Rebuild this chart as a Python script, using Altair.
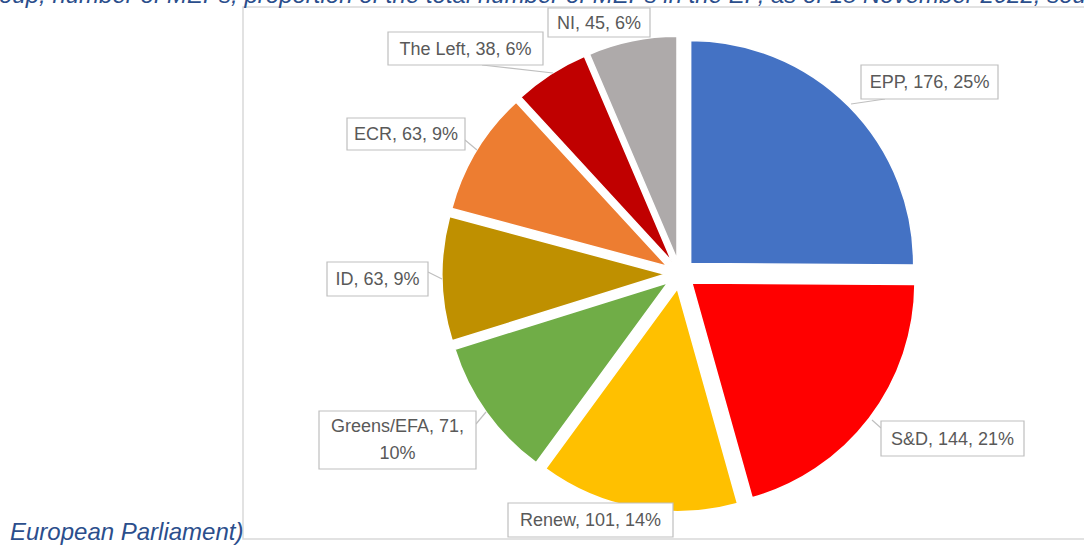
import altair as alt
import pandas as pd

# ---------------- data ----------------
groups = ["EPP", "S&D", "Renew", "Greens/EFA", "ID", "ECR", "The Left", "NI"]
meps = [176, 144, 101, 71, 63, 63, 38, 45]
shares = [25, 21, 14, 10, 9, 9, 6, 6]
colors = ["#4472C4", "#FF0000", "#FFC000", "#70AD47", "#BF9000", "#ED7D31", "#C00000", "#AEAAAA"]

caption_top = "oup, number of MEPs, proportion of the total number of MEPs in the EP, as of 18 November 2022, sou"
caption_bottom = "European Parliament)"

# ---------------- layout ----------------
W, H = 1084, 545
CX, CY, R = 680, 274, 223          # pie centre and radius (px)
EXPLODE = 15 / 223                 # point explosion, fraction of radius
TEXT_BLUE = "#2B4E8C"
LABEL_GREY = "#595959"
LINE_H = 27

# label boxes in pixels: x0, y0, x1, y1
label_boxes = {
    "EPP": (861, 65, 998, 99),
    "S&D": (881, 421, 1024, 456),
    "Renew": (508, 503, 673, 537),
    "Greens/EFA": (319, 411, 476, 469),
    "ID": (327, 262, 428, 296),
    "ECR": (347, 118, 465, 150),
    "The Left": (388, 32, 543, 65),
    "NI": (548, 8, 650, 37),
}
wrap_after_value = {"Greens/EFA"}
# callout pointers in pixels: x0, y0, x1, y1
leaders = [
    (885, 99, 851, 104),
    (881, 428, 872, 420),
    (476, 424, 486, 412),
    (428, 272, 442, 279),
    (465, 140, 477, 150),
    (482, 65, 553, 73),
]


def nx(px):
    return (px - CX) / R


def ny(py):
    return (CY - py) / R


total = sum(meps)
slices = pd.DataFrame({"idx": list(range(len(groups))), "group": groups, "value": meps})

xs = alt.Scale(domain=[-1, 1], range=[CX - R, CX + R])
ys = alt.Scale(domain=[-1, 1], range=[CY + R, CY - R])
color_scale = alt.Scale(domain=groups, range=colors)

pie = (
    alt.Chart(slices)
    .transform_window(cum="sum(value)", sort=[alt.SortField("idx")], frame=[None, 0])
    .transform_calculate(c0="datum.cum - datum.value")
    .transform_calculate(mid=f"(datum.c0 + datum.cum) / 2 / {total} * 2 * PI")
    .transform_calculate(ex=f"{EXPLODE} * sin(datum.mid)", ey=f"{EXPLODE} * cos(datum.mid)")
    .mark_arc(radius=R, stroke="white", strokeWidth=1.5)
    .encode(
        theta=alt.Theta("c0:Q", scale=alt.Scale(domain=[0, total], range=[0, 6.283185307179586])),
        theta2="cum:Q",
        x=alt.X("ex:Q", scale=xs, axis=None),
        y=alt.Y("ey:Q", scale=ys, axis=None),
        color=alt.Color("group:N", scale=color_scale, legend=None),
    )
)

lab_rows = []
for g, v, p in zip(groups, meps, shares):
    x0, y0, x1, y1 = label_boxes[g]
    if g in wrap_after_value:
        txt = f"{g}, {v},\n{p}%"
        tyc = (y0 + y1) / 2 - LINE_H / 2
    else:
        txt = f"{g}, {v}, {p}%"
        tyc = (y0 + y1) / 2 + 1
    lab_rows.append({
        "label": txt,
        "bx0": nx(x0), "bx1": nx(x1), "by0": ny(y0), "by1": ny(y1),
        "tx": nx((x0 + x1) / 2), "ty": ny(tyc),
    })
labels = pd.DataFrame(lab_rows)

lead_df = pd.DataFrame([
    {"lx0": nx(a), "ly0": ny(b), "lx1": nx(c), "ly1": ny(d)} for a, b, c, d in leaders
])

leader_layer = alt.Chart(lead_df).mark_rule(color="#BFBFBF", strokeWidth=1.2).encode(
    x=alt.X("lx0:Q", scale=xs, axis=None),
    y=alt.Y("ly0:Q", scale=ys, axis=None),
    x2="lx1:Q",
    y2="ly1:Q",
)

box_layer = alt.Chart(labels).mark_rect(fill="white", stroke="#BFBFBF", strokeWidth=1.2).encode(
    x=alt.X("bx0:Q", scale=xs, axis=None),
    x2="bx1:Q",
    y=alt.Y("by0:Q", scale=ys, axis=None),
    y2="by1:Q",
)

text_layer = alt.Chart(labels).mark_text(
    font="Liberation Sans", fontSize=18, color=LABEL_GREY, align="center",
    baseline="middle", lineBreak="\n", lineHeight=LINE_H,
).encode(
    x=alt.X("tx:Q", scale=xs, axis=None),
    y=alt.Y("ty:Q", scale=ys, axis=None),
    text="label:N",
)

frame = alt.Chart(pd.DataFrame({"k": [0]})).mark_rect(
    fill="white", fillOpacity=0, stroke="#D9D9D9", strokeWidth=1.5
).encode(
    x=alt.value(243), x2=alt.value(1100), y=alt.value(7), y2=alt.value(539)
)

cap_top = alt.Chart(pd.DataFrame({"t": [caption_top]})).mark_text(
    font="Liberation Sans", fontStyle="italic", fontSize=24, color=TEXT_BLUE,
    align="left", baseline="alphabetic",
).encode(x=alt.value(-1), y=alt.value(3), text="t:N")

cap_bottom = alt.Chart(pd.DataFrame({"t": [caption_bottom]})).mark_text(
    font="Liberation Sans", fontStyle="italic", fontSize=24, color=TEXT_BLUE,
    align="left", baseline="alphabetic",
).encode(x=alt.value(10), y=alt.value(540), text="t:N")

chart = alt.layer(
    frame, pie, leader_layer, box_layer, text_layer, cap_top, cap_bottom
).properties(
    width=W, height=H, padding=0, background="white",
    autosize=alt.AutoSizeParams(type="none"),
).configure_view(stroke=None)

chart.save("out.html", embed_options={"renderer": "svg", "actions": False})
